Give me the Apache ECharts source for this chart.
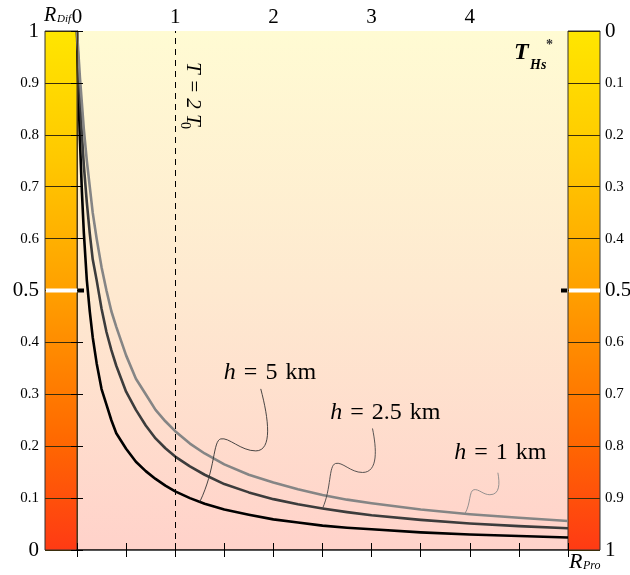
<!DOCTYPE html>
<html><head><meta charset="utf-8">
<script src="https://cdn.jsdelivr.net/npm/echarts@6/dist/echarts.min.js"></script>
<style>html,body{margin:0;padding:0;background:#fff}#c{width:630px;height:575px}</style>
</head><body><div id="c"></div>
<script>
// ---- data ----
const xValues = [0, 0.01, 0.02, 0.03, 0.05, 0.07, 0.1, 0.13, 0.16, 0.2, 0.25, 0.3, 0.35, 0.4, 0.5, 0.6, 0.7, 0.8, 0.9, 1, 1.15, 1.3, 1.5, 1.75, 2, 2.25, 2.5, 2.75, 3, 3.5, 4, 4.5, 5];
const curveA  = [1, 0.92, 0.85, 0.79, 0.69, 0.61, 0.52, 0.46, 0.41, 0.36, 0.31, 0.28, 0.25, 0.225, 0.195, 0.17, 0.152, 0.137, 0.124, 0.113, 0.1, 0.089, 0.078, 0.068, 0.059, 0.053, 0.047, 0.043, 0.04, 0.034, 0.03, 0.027, 0.024];
const curveB  = [1, 0.95, 0.91, 0.87, 0.8, 0.74, 0.67, 0.61, 0.56, 0.52, 0.465, 0.42, 0.385, 0.355, 0.305, 0.27, 0.24, 0.215, 0.196, 0.18, 0.161, 0.145, 0.127, 0.111, 0.098, 0.088, 0.08, 0.073, 0.067, 0.058, 0.051, 0.046, 0.042];
const curveC  = [1, 0.97, 0.94, 0.91, 0.86, 0.81, 0.75, 0.7, 0.65, 0.6, 0.545, 0.5, 0.46, 0.43, 0.375, 0.33, 0.3, 0.27, 0.248, 0.229, 0.205, 0.186, 0.165, 0.145, 0.13, 0.117, 0.106, 0.097, 0.09, 0.078, 0.069, 0.062, 0.056];
const curveLabels = ['5', '2.5', '1'];          // h values (km) as annotated
const leaderX = [1.25, 2.5, 3.95];               // where each annotation touches its curve
const labelAnchor = [[1.965, 0.341], [3.14, 0.264], [4.31, 0.187]];
const topTickLabels = ['0', '1', '2', '3', '4'];
const leftTickLabels = ['0', '0.1', '0.2', '0.3', '0.4', '0.5', '0.6', '0.7', '0.8', '0.9', '1'];
const rightTickLabels = ['0', '0.1', '0.2', '0.3', '0.4', '0.5', '0.6', '0.7', '0.8', '0.9', '1'];
const bigLabels = ['0', '0.5', '1'];
const markerX = 1;
const X_MAX = 5;

// ---- styles ----
const SERIF = '"Liberation Serif", "DejaVu Serif", serif';
const lineColors = ['#000000', '#3c3c3c', '#858585'];
const barGrad = {type: 'linear', x: 0, y: 0, x2: 0, y2: 1, colorStops: [
  {offset: 0, color: '#ffe600'}, {offset: 0.25, color: '#ffc800'}, {offset: 0.5, color: '#ffa000'},
  {offset: 0.78, color: '#ff6a00'}, {offset: 1, color: '#ff3a14'}]};

const chart = echarts.init(document.getElementById('c'), null, {renderer: 'canvas'});

function yLabel(list) {
  return function (v) {
    const s = list[Math.round(v * 10)];
    if (s === undefined) return '';
    return bigLabels.indexOf(s) >= 0 ? '{b|' + s + '}' : '{s|' + s + '}';
  };
}
const yRich = {
  b: {fontSize: 21, fontFamily: SERIF, color: '#000'},
  s: {fontSize: 15, fontFamily: SERIF, color: '#000'}
};

const curves = [curveA, curveB, curveC];
const series = curves.map((c, i) => ({
  type: 'line',
  xAxisIndex: 0, yAxisIndex: 0,
  data: xValues.map((x, k) => [x, c[k]]),
  showSymbol: false,
  smooth: false,
  lineStyle: {color: lineColors[i], width: 2.6, join: 'round'},
  z: 3,
  silent: true
}));
series[0].markLine = {
  silent: true, symbol: ['none', 'none'],
  label: {show: false},
  lineStyle: {type: [6, 5], color: '#000', width: 1},
  data: [{xAxis: markerX}]
};

const hiddenX = gi => ({type: 'value', gridIndex: gi, min: 0, max: 1, show: false});
const barY = (gi, pos, inverse, list, margin) => ({
  type: 'value', gridIndex: gi, position: pos, min: 0, max: 1, interval: 0.1, inverse: inverse, z: 4,
  axisLine: {show: false}, axisTick: {show: false},
  axisLabel: {show: true, margin: margin, formatter: yLabel(list), rich: yRich},
  splitLine: {show: true, lineStyle: {color: '#3a2e0c', width: 1}}
});
const mainY = pos => ({
  type: 'value', gridIndex: 0, position: pos, min: 0, max: 1, interval: 0.1, z: 4,
  axisLine: {show: true, lineStyle: {color: '#4a3a18', width: 1}},
  axisTick: {show: true, inside: true, length: 6, lineStyle: {color: '#000'}},
  axisLabel: {show: false}, splitLine: {show: false}
});

const option = {
  animation: false,
  backgroundColor: '#fff',
  grid: [
    {left: 77, right: 62, top: 31, bottom: 25, show: true, borderWidth: 0, outerBoundsMode: 'none', containLabel: false,
     backgroundColor: {type: 'linear', x: 0, y: 0, x2: 0, y2: 1, colorStops: [
       {offset: 0, color: '#fffbd3'}, {offset: 0.5, color: '#fee9d0'}, {offset: 1, color: '#ffd2ca'}]}},
    {left: 45, width: 32, top: 31, bottom: 25, show: true, backgroundColor: barGrad, borderColor: '#333', borderWidth: 1,
     outerBoundsMode: 'none', containLabel: false},
    {left: 568, width: 32, top: 31, bottom: 25, show: true, backgroundColor: barGrad, borderColor: '#333', borderWidth: 1,
     outerBoundsMode: 'none', containLabel: false}
  ],
  xAxis: [
    {type: 'value', gridIndex: 0, position: 'bottom', min: 0, max: X_MAX, interval: 0.5, z: 4,
     axisLine: {show: true, lineStyle: {color: '#000', width: 1.5}},
     axisTick: {show: true, inside: true, length: 7, lineStyle: {color: '#000'}},
     axisLabel: {show: false}, splitLine: {show: false}},
    {type: 'value', gridIndex: 0, position: 'top', min: 0, max: X_MAX, interval: 0.5, z: 4,
     axisLine: {show: true, lineStyle: {color: '#555', width: 1.2}},
     axisTick: {show: true, inside: true, length: 7, lineStyle: {color: '#000'}},
     axisLabel: {show: true, margin: 3, fontSize: 21, fontFamily: SERIF, color: '#000',
       formatter: v => (Math.abs(v - Math.round(v)) < 1e-6 && topTickLabels[Math.round(v)] !== undefined) ? topTickLabels[Math.round(v)] : ''},
     splitLine: {show: false}},
    hiddenX(1), hiddenX(2)
  ],
  yAxis: [
    mainY('left'), mainY('right'),
    barY(1, 'left', false, leftTickLabels, 6),
    barY(2, 'right', true, rightTickLabels, 5)
  ],
  series: series
};
chart.setOption(option);

// ---- annotations ----
const P = (x, y) => chart.convertToPixel({xAxisIndex: 0, yAxisIndex: 0}, [x, y]);
const tl = P(0, 1), br = P(X_MAX, 0), mid = P(0, 0.5);

function interp(c, x) {
  for (let k = 1; k < xValues.length; k++) {
    if (x <= xValues[k]) {
      const t = (x - xValues[k - 1]) / (xValues[k] - xValues[k - 1]);
      return c[k - 1] + t * (c[k] - c[k - 1]);
    }
  }
  return c[c.length - 1];
}

// leader shapes relative to the touch point on the curve: start, then 3 cubic segments
const leaderShapes = [
  [[61,-113],[69,-83],[73,-51],[56,-51],[41,-51],[29,-65],[21,-63],[13,-61],[16,-33],[0,0]],
  [[50,-80],[54,-60],[56,-36],[40,-36],[28,-36],[20,-47],[13,-45],[6,-43],[9,-20],[0,0]],
  [[33,-41],[35,-30],[35,-19],[25,-19],[18,-19],[14,-25],[9,-24],[4,-23],[6,-10],[0,0]]
];
const leaderColors = ['#333', '#444', '#888'];

const txt = (x, y, text, font, fill, align, valign, z) => ({
  type: 'text', z: z || 20, x: x, y: y,
  style: {text: text, font: font, fill: fill || '#000',
          textAlign: align || 'left', textVerticalAlign: valign || 'bottom',
          align: align || 'left', verticalAlign: valign || 'bottom'}
});

const g = [
  {type: 'rect', z: 20, shape: {x: tl[0] - 31, y: mid[1] - 2, width: 31, height: 4}, style: {fill: '#fff'}},
  {type: 'rect', z: 20, shape: {x: br[0] + 1, y: mid[1] - 2, width: 31, height: 4}, style: {fill: '#fff'}},
  {type: 'rect', z: 20, shape: {x: tl[0] + 1, y: mid[1] - 2, width: 6, height: 4}, style: {fill: '#000'}},
  {type: 'rect', z: 20, shape: {x: br[0] - 7, y: mid[1] - 2, width: 6, height: 4}, style: {fill: '#000'}},
  // R_Dif
  txt(tl[0] - 33, tl[1] - 5, 'R', 'italic 20px ' + SERIF),
  txt(tl[0] - 20, tl[1] - 6, 'Dif', 'italic 11px ' + SERIF),
  // R_Pro
  txt(br[0] + 1, br[1] + 23, 'R', 'italic 22px ' + SERIF),
  txt(br[0] + 15, br[1] + 22, 'Pro', 'italic 12px ' + SERIF),
  // T_Hs*
  txt(br[0] - 54, tl[1] + 34, 'T', 'italic bold 24px ' + SERIF),
  txt(br[0] - 38, tl[1] + 41, 'Hs', 'italic bold 14px ' + SERIF),
  txt(br[0] - 22, tl[1] + 21, '*', 'bold 14px ' + SERIF, '#333')
];

// T = 2 T0 rotated label
const tp = P(markerX, 1);
g.push({type: 'group', z: 20, x: tp[0] + 17, y: tp[1] + 31, rotation: -Math.PI / 2, children: [
  txt(0, 0, 'T = 2 T', 'italic 21px ' + SERIF, '#000', 'left', 'middle'),
  txt(60, 8, '0', '14px ' + SERIF, '#000', 'left', 'middle')
]});

curves.forEach((c, i) => {
  const e = P(leaderX[i], interp(c, leaderX[i]));
  const s = leaderShapes[i];
  for (let j = 0; j < 3; j++) {
    const p0 = s[j * 3], c1 = s[j * 3 + 1], c2 = s[j * 3 + 2], p1 = s[j * 3 + 3];
    g.push({type: 'bezierCurve', z: 15, x: e[0], y: e[1],
            shape: {x1: p0[0], y1: p0[1], cpx1: c1[0], cpy1: c1[1], cpx2: c2[0], cpy2: c2[1], x2: p1[0], y2: p1[1]},
            style: {fill: null, stroke: leaderColors[i], lineWidth: 0.9}});
  }
  const a = P(labelAnchor[i][0], labelAnchor[i][1]);
  g.push({type: 'text', z: 20, x: a[0], y: a[1],
          style: {text: '{i|h}{e|=}' + curveLabels[i] + '{k|km}',
                  rich: {i: {fontStyle: 'italic', fontSize: 24, fontFamily: SERIF},
                         e: {fontSize: 24, fontFamily: SERIF, padding: [0, 8, 0, 8]},
                         k: {fontSize: 24, fontFamily: SERIF, padding: [0, 0, 0, 8]}},
                  font: '24px ' + SERIF, fill: '#000',
                  textAlign: 'center', textVerticalAlign: 'middle', align: 'center', verticalAlign: 'middle'}});
});

chart.setOption({graphic: {elements: g}});
</script>
</body></html>
